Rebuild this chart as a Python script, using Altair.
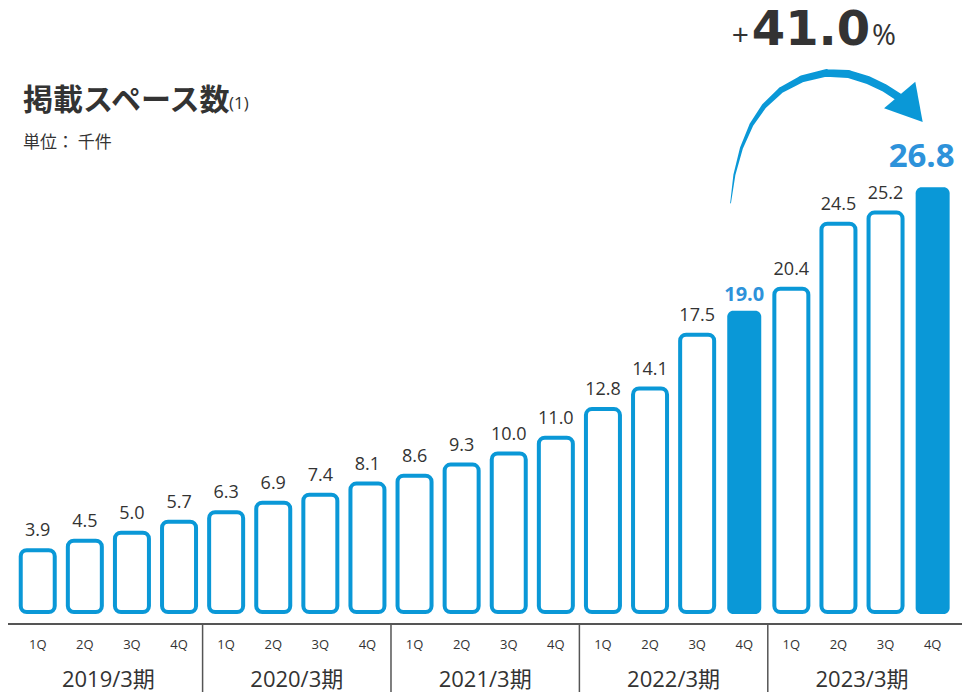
import altair as alt
import pandas as pd

# ---- data ----
quarters = ["1Q", "2Q", "3Q", "4Q"] * 5
years = ["2019/3期", "2020/3期", "2021/3期", "2022/3期", "2023/3期"]
values = [3.9, 4.5, 5.0, 5.7, 6.3, 6.9, 7.4, 8.1, 8.6, 9.3,
          10.0, 11.0, 12.8, 14.1, 17.5, 19.0, 20.4, 24.5, 25.2, 26.8]
highlight = [0] * 15 + [1] + [0] * 3 + [1]
labels = [f"{v:.1f}" for v in values]

title_text = "掲載スペース数"
title_note = "(1)"
unit_text = "単位： 千件"
growth_sign, growth_value, growth_unit = "+", "41.0", "%"

# decorative growth arrow (in index / value space)
arc_x = [14.71, 14.79, 14.94, 15.15, 15.42, 15.78, 16.22, 16.74, 17.21, 17.63, 17.98, 18.28]
arc_y = [25.80, 27.57, 29.27, 30.73, 31.92, 32.93, 33.63, 34.01, 33.94, 33.56, 33.06, 32.49]
arc_w = [0.8, 2.0, 3.0, 4.0, 5.0, 6.0, 7.0, 7.5, 8.0, 8.0, 8.0, 8.0]
head_x, head_y = [18.30], [32.62]

BLUE = "#0a98d7"
LBLUE = "#2d92da"
DARK = "#333333"
NUM = "Open Sans"
JP = "Noto Sans CJK JP"
MIX = "Open Sans, Noto Sans CJK JP"

W, H = 954, 684
xs = alt.Scale(domain=[-0.5252, 19.517])
ys = alt.Scale(domain=[-5.047, 38.107])

df = pd.DataFrame({"idx": list(range(20)), "v": values, "hl": highlight,
                   "lab": labels, "q": quarters})
base = alt.Chart(df)
X = alt.X("idx:Q", scale=xs, axis=None)
Y = alt.Y("v:Q", scale=ys, axis=None)

outline = base.transform_filter("datum.hl == 0").mark_bar(
    size=34, fill="white", stroke=BLUE, strokeWidth=4, cornerRadius=6
).encode(x=X, y=Y, y2=alt.datum(0))

filled = base.transform_filter("datum.hl == 1").mark_bar(
    size=34, fill=BLUE, cornerRadius=6
).encode(x=X, y=Y, y2=alt.datum(-0.12))

lab_norm = base.transform_filter("datum.hl == 0").mark_text(
    font=NUM, fontSize=18, color=DARK, baseline="alphabetic", dy=-14
).encode(x=X, y=Y, text="lab:N")

lab_19 = base.transform_filter("datum.idx == 15").mark_text(
    font=NUM, fontSize=20, fontWeight="bold", color=LBLUE, baseline="alphabetic", dy=-10
).encode(x=X, y=Y, text="lab:N")

lab_268 = base.transform_filter("datum.idx == 19").mark_text(
    font=NUM, fontSize=33, fontWeight="bold", color=LBLUE, baseline="alphabetic", dy=-20, dx=-11
).encode(x=X, y=Y, text="lab:N")

q_labels = base.mark_text(font=NUM, fontSize=13, color=DARK, baseline="middle").encode(
    x=X, y=alt.value(637), text="q:N")

ydf = pd.DataFrame({"c": [4 * i + 1.5 for i in range(5)], "t": years})
y_labels = alt.Chart(ydf).mark_text(font=MIX, fontSize=22, color=DARK, baseline="alphabetic").encode(
    x=alt.X("c:Q", scale=xs, axis=None), y=alt.value(678.5), text="t:N")

sdf = pd.DataFrame({"s": [4 * i + 3.5 for i in range(4)]})
seps = alt.Chart(sdf).mark_rule(color="#555555", strokeWidth=1.5).encode(
    x=alt.X("s:Q", scale=xs, axis=None), y=alt.value(616), y2=alt.value(H))

one = alt.Data(values=[{"k": 1}])
axis_line = alt.Chart(one).mark_rule(color="#555555", strokeWidth=2).encode(
    x=alt.value(0), x2=alt.value(W), y=alt.value(616))

def txt(t, x, y, **kw):
    return alt.Chart(alt.Data(values=[{"t": t}])).mark_text(**kw).encode(
        x=alt.value(x), y=alt.value(y), text="t:N")

title = txt(title_text, 15, 93, font=JP, fontSize=30, fontWeight="bold", color=DARK,
            align="left", baseline="middle")
note = txt(title_note, 221, 96, font=NUM, fontSize=17, color=DARK, align="left", baseline="middle")
unit = txt(unit_text, 15, 134.5, font=JP, fontSize=17, color=DARK, align="left", baseline="middle")

g_sign = txt(growth_sign, 741, 37, font=NUM, fontSize=30, color=DARK, align="right", baseline="alphabetic")
g_val = txt(growth_value, 803, 37, font="DejaVu Sans", fontSize=48, fontWeight="bold", color=DARK,
            align="center", baseline="alphabetic")
g_unit = txt(growth_unit, 864, 37, font=NUM, fontSize=29, color=DARK, align="left", baseline="alphabetic")

adf = pd.DataFrame({"ax": arc_x, "ay": arc_y, "aw": arc_w, "o": list(range(len(arc_x)))})
arc = alt.Chart(adf).mark_trail(color=BLUE).encode(
    x=alt.X("ax:Q", scale=xs, axis=None), y=alt.Y("ay:Q", scale=ys, axis=None),
    size=alt.Size("aw:Q", scale=None, legend=None), order="o:Q")

hdf = pd.DataFrame({"hx": head_x, "hy": head_y})
head = alt.Chart(hdf).mark_point(
    shape="M-1,0 L0,-1.73 L1,0 Z", size=1681, angle=139.6, filled=True,
    fill=BLUE, opacity=1, strokeWidth=0
).encode(x=alt.X("hx:Q", scale=xs, axis=None), y=alt.Y("hy:Q", scale=ys, axis=None))

chart = alt.layer(
    outline, filled, lab_norm, lab_19, lab_268, q_labels, y_labels, seps, axis_line,
    title, note, unit, g_sign, g_val, g_unit, arc, head
).properties(width=W, height=H, padding=0, autosize="none").configure_view(stroke=None)

chart.save("out.html", embed_options={"renderer": "svg", "actions": False})
